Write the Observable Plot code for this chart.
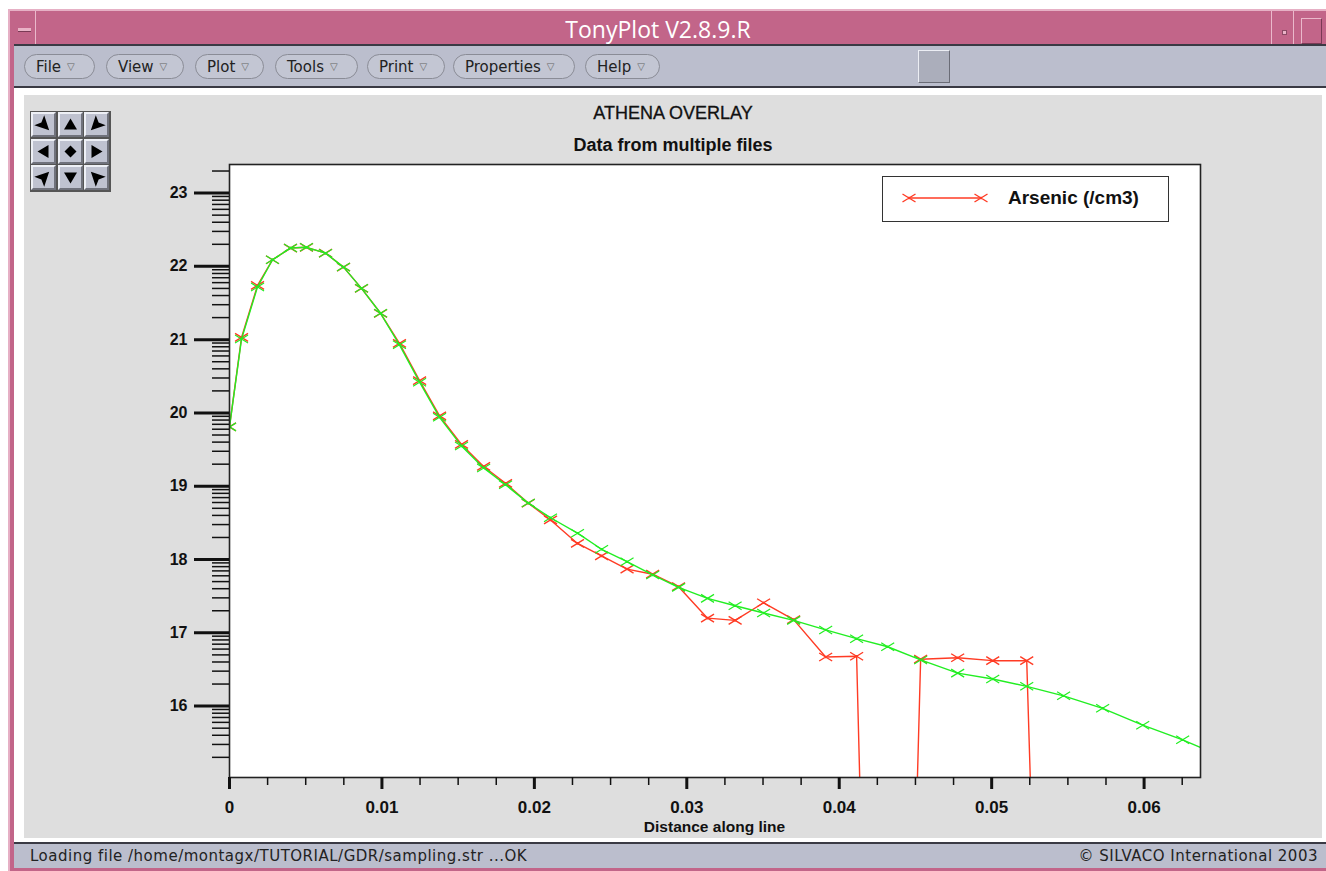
<!DOCTYPE html>
<html><head><meta charset="utf-8">
<script src="https://cdn.jsdelivr.net/npm/d3@7"></script>
<script src="https://cdn.jsdelivr.net/npm/@observablehq/plot@0.6"></script>
<style>
body{margin:0;width:1326px;height:871px;position:relative;background:#fff;overflow:hidden;font-family:"DejaVu Sans",sans-serif}
.a{position:absolute}
.btn{position:absolute;top:54px;height:25px;border:1px solid #8a8c96;border-radius:13px;background:#c3c6d3;font:15px "DejaVu Sans",sans-serif;color:#222;line-height:25px;box-sizing:border-box;padding-left:11px;white-space:nowrap}
.btn span{font-size:10px;color:#666;margin-left:6px;position:relative;top:-2px}
.cell{position:absolute;width:25px;height:25px;box-sizing:border-box;background:#bfc2d0;border-top:2px solid #eef0f6;border-left:2px solid #eef0f6;border-right:2px solid #70727c;border-bottom:2px solid #70727c}
</style></head><body>
<!-- window frame -->
<div class="a" style="left:8px;top:9px;width:1318px;height:862px;background:#c26589"></div>
<div class="a" style="left:8px;top:9px;width:1318px;height:2px;background:#e6b0c5"></div>
<div class="a" style="left:8px;top:9px;width:2px;height:862px;background:#e6b0c5"></div>
<div class="a" style="left:35px;top:11px;width:1px;height:33px;background:#eab9cb"></div>
<div class="a" style="left:18px;top:28px;width:13px;height:3px;background:#e9b3c7;border-bottom:1px solid #7a3a55"></div>
<div class="a" style="left:0;top:13px;width:1316px;text-align:center;color:#fff;font:23px 'Open Sans',sans-serif">TonyPlot V2.8.9.R</div>
<div class="a" style="left:1271px;top:11px;width:1px;height:33px;background:#eab9cb"></div>
<div class="a" style="left:1282px;top:30px;width:3px;height:3px;background:#e9b3c7;border:1px solid #8a4a65"></div>
<div class="a" style="left:1293px;top:11px;width:1px;height:33px;background:#eab9cb"></div>
<div class="a" style="left:1301px;top:18px;width:19px;height:24px;border:1px solid #eab9cb;border-right-color:#7a3a55;border-bottom-color:#7a3a55"></div>
<!-- menu bar -->
<div class="a" style="left:14px;top:44px;width:1312px;height:44px;background:#bbbecd;border-top:2px solid #3a3a44;border-bottom:2px solid #3a3a44;box-sizing:border-box"></div>
<div class="btn" style="left:24px;width:71px">File<span>▽</span></div>
<div class="btn" style="left:106px;width:78px">View<span>▽</span></div>
<div class="btn" style="left:195px;width:69px">Plot<span>▽</span></div>
<div class="btn" style="left:275px;width:83px">Tools<span>▽</span></div>
<div class="btn" style="left:367px;width:78px">Print<span>▽</span></div>
<div class="btn" style="left:453px;width:122px">Properties<span>▽</span></div>
<div class="btn" style="left:585px;width:75px">Help<span>▽</span></div>
<div class="a" style="left:918px;top:50px;width:32px;height:33px;box-sizing:border-box;background:#abaebb;border:1px solid #eceef4;border-right-color:#6a6c76;border-bottom-color:#6a6c76"></div>
<!-- canvas area -->
<div class="a" style="left:14px;top:88px;width:1312px;height:754px;background:#fff"></div>
<div class="a" style="left:24px;top:95px;width:1298px;height:743px;background:#dedede"></div>
<!-- status bar -->
<div class="a" style="left:14px;top:842px;width:1312px;height:26px;background:#bbbecd;border-top:2px solid #3a3a44;box-sizing:border-box"></div>
<div class="a" style="left:30px;top:847px;font:15px 'DejaVu Sans',sans-serif;letter-spacing:0.5px;color:#222">Loading file /home/montagx/TUTORIAL/GDR/sampling.str ...OK</div>
<div class="a" style="right:8px;top:847px;font:15px 'DejaVu Sans',sans-serif;letter-spacing:0.5px;color:#222">© SILVACO International 2003</div>
<!-- nav pad -->
<div class="a" id="pad" style="left:30px;top:111px;width:81px;height:81px;background:#555;"></div>
<!-- titles -->
<div class="a" style="left:24px;top:103px;width:1298px;text-align:center;font:18px 'Liberation Sans',sans-serif;color:#111;-webkit-text-stroke:0.3px #111">ATHENA OVERLAY</div>
<div class="a" style="left:24px;top:135px;width:1298px;text-align:center;font:bold 18px 'Liberation Sans',sans-serif;color:#111">Data from multiple files</div>
<div class="a" style="left:229px;top:818px;width:971px;text-align:center;line-height:1;font:bold 15.5px 'Liberation Sans Narrow','Liberation Sans',sans-serif;color:#111">Distance along line</div>
<div class="a" id="chart" style="left:130px;top:150px"></div>
<!-- legend -->
<div class="a" style="left:882px;top:176px;width:287px;height:46px;box-sizing:border-box;border:1.5px solid #333;background:#fff">
 <svg class="a" style="left:0;top:0" width="120" height="44"><g id="legsym"></g></svg>
 <div class="a" style="left:125px;top:10px;font:bold 19px 'Liberation Sans',sans-serif;color:#111;white-space:nowrap">Arsenic (/cm3)</div>
</div>
<script>
// ---------------- data ----------------
const greenX = [0, 0.00079, 0.00184, 0.00282, 0.0040, 0.00505, 0.0063, 0.00748, 0.00866, 0.00991, 0.01115, 0.01247, 0.01378, 0.01522, 0.01667, 0.01811, 0.0196, 0.02106, 0.02283, 0.02441, 0.02608, 0.02776, 0.02946, 0.03136, 0.03317, 0.03504, 0.03701, 0.03911, 0.04114, 0.04318, 0.04534, 0.04777, 0.05007, 0.0523, 0.05472, 0.05728, 0.05991, 0.06253, 0.0652];
const greenY = [19.81, 21.01, 21.72, 22.09, 22.25, 22.26, 22.18, 21.99, 21.70, 21.36, 20.93, 20.42, 19.94, 19.55, 19.25, 19.02, 18.77, 18.57, 18.36, 18.14, 17.97, 17.79, 17.62, 17.47, 17.37, 17.27, 17.17, 17.04, 16.92, 16.81, 16.63, 16.45, 16.37, 16.27, 16.14, 15.97, 15.74, 15.54, 15.30];
const arsenicX = [0, 0.00079, 0.00184, 0.00282, 0.0040, 0.00505, 0.0063, 0.00748, 0.00866, 0.00991, 0.01115, 0.01247, 0.01378, 0.01522, 0.01667, 0.01811, 0.0196, 0.02106, 0.02283, 0.02441, 0.02608, 0.02776, 0.02946, 0.03136, 0.03317, 0.03504, 0.03701, 0.03911, 0.04114, 0.04318, 0.04534, 0.04777, 0.05007, 0.0523, 0.05472, 0.05728, 0.05991, 0.06253, 0.0652];
const arsenicY = [19.81, 21.03, 21.74, 22.09, 22.25, 22.26, 22.18, 21.99, 21.70, 21.36, 20.95, 20.44, 19.96, 19.57, 19.27, 19.04, 18.77, 18.54, 18.22, 18.05, 17.87, 17.80, 17.63, 17.20, 17.17, 17.41, 17.18, 16.67, 16.68, 0, 16.64, 16.66, 16.62, 16.62, 0, 0, 0, 0, 0];
const xTickLabels = [0, 0.01, 0.02, 0.03, 0.04, 0.05, 0.06];
const yTickLabels = [16, 17, 18, 19, 20, 21, 22, 23];
const seriesName = "Arsenic (/cm3)";

// ---------------- build ----------------
const green = greenX.map((x, i) => ({x, y: greenY[i]}));
const arsenic = arsenicX.map((x, i) => ({x, y: arsenicY[i]}));
const RED = "#ff3b24", GREEN = "#22ee22";
const xMark = {draw(ctx) { const w = 6.5, h = 4; ctx.moveTo(-w, -h); ctx.lineTo(w, h); ctx.moveTo(-w, h); ctx.lineTo(w, -h); ctx.rect(-0.6, -0.6, 1.2, 1.2); }};
// log-decade minor ticks (axis structure)
const yMinor = [];
for (let d = 15; d <= 23; d++) for (let k = 2; k <= 9; k++) { const v = d + Math.log10(k); if (v > 15.03 && v < 23.39) yMinor.push(v); }
const xMinor = d3.range(0, 0.064, 0.0025).filter(v => !xTickLabels.some(t => Math.abs(t - v) < 1e-9));

const font = "'Liberation Sans', Arial, sans-serif";
const chart = Plot.plot({
  width: 1090, height: 690,
  marginLeft: 99, marginTop: 14, marginRight: 20, marginBottom: 63,
  x: {domain: [0, 0.0637]},
  y: {domain: [15.026, 23.39]},
  style: {background: "transparent", overflow: "visible", color: "#111"},
  marks: [
    Plot.frame({fill: "#fff", stroke: null}),
    Plot.line(arsenic, {x: "x", y: "y", stroke: RED, strokeWidth: 1.4, clip: true}),
    Plot.dot(arsenic, {x: "x", y: "y", symbol: xMark, stroke: RED, strokeWidth: 1.4, fill: "none", clip: true}),
    Plot.line(green, {x: "x", y: "y", stroke: GREEN, strokeWidth: 1.4, clip: true}),
    Plot.dot(green, {x: "x", y: "y", symbol: xMark, stroke: GREEN, strokeWidth: 1.2, fill: "none", clip: true}),
    Plot.frame({stroke: "#222", strokeWidth: 1.6}),
    Plot.axisY(yTickLabels, {anchor: "left", tickSize: 35, tickPadding: 7, strokeWidth: 3, tickFormat: d => String(d), fontSize: 16, fontWeight: "bold", fontFamily: font, label: null}),
    Plot.axisY(yMinor, {anchor: "left", tickSize: 17, strokeWidth: 1.5, tickFormat: () => "", label: null}),
    Plot.axisX(xTickLabels, {anchor: "bottom", tickSize: 12, tickPadding: 11, strokeWidth: 3, tickFormat: d => d === 0 ? "0" : d.toFixed(2), fontSize: 17, fontWeight: "bold", fontFamily: "'Liberation Sans Narrow', 'Liberation Sans', sans-serif", label: null}),
    Plot.axisX(xMinor, {anchor: "bottom", tickSize: 8, strokeWidth: 1.5, tickFormat: () => "", label: null})
  ]
});
document.getElementById("chart").append(chart);

// legend sample (red line with X markers)
const leg = d3.select("#legsym");
leg.append("line").attr("x1", 26).attr("x2", 98).attr("y1", 21).attr("y2", 21).attr("stroke", RED).attr("stroke-width", 1.4);
[26, 98].forEach(cx => leg.append("path").attr("transform", `translate(${cx},21)`).attr("d", d3.symbol(xMark)()).attr("stroke", RED).attr("stroke-width", 1.4).attr("fill", "none"));

// nav pad
const pad = document.getElementById("pad");
const glyphs = [["dart", 45], ["tri", -90], ["dart", 135], ["tri", 180], ["dia", 0], ["tri", 0], ["dart", -45], ["tri", 90], ["dart", -135]];
glyphs.forEach(([k, rot], i) => {
  const c = document.createElement("div");
  c.className = "cell";
  c.style.left = (1 + (i % 3) * 26.5) + "px";
  c.style.top = (1 + Math.floor(i / 3) * 26.5) + "px";
  let p;
  if (k === "tri") p = "M6,0 L-5,-6.5 L-5,6.5 Z";
  else if (k === "dart") p = "M8,0 L-6,-7 L-3,0 L-6,7 Z";
  else p = "M0,-6 L6,0 L0,6 L-6,0 Z";
  c.innerHTML = `<svg width="21" height="21" style="position:absolute;left:0;top:0"><path d="${p}" fill="#000" transform="translate(10.5,10.5) rotate(${rot})"/></svg>`;
  pad.append(c);
});
</script>
</body></html>
